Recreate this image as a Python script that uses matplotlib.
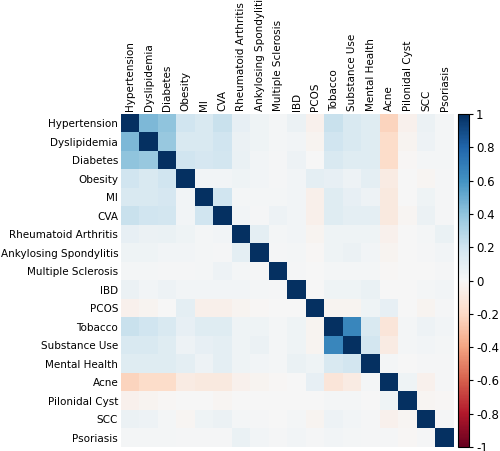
import matplotlib.pyplot as plt
import numpy as np

labels = ["Hypertension", "Dyslipidemia", "Diabetes", "Obesity", "MI", "CVA",
          "Rheumatoid Arthritis", "Ankylosing Spondylitis", "Multiple Sclerosis",
          "IBD", "PCOS", "Tobacco", "Substance Use", "Mental Health", "Acne",
          "Pilonidal Cyst", "SCC", "Psoriasis"]

# upper triangle, row by row (values to the right of the diagonal)
upper = [
    [.45, .40, .20, .15, .22, .08, .04, .02, .06, -.04, .22, .15, .12, -.22, -.04, .06, .02],
    [.38, .15, .15, .20, .06, .04, .02, .03, -.03, .20, .15, .12, -.18, -.03, .05, .02],
    [.20, .17, .18, .07, .03, .01, .05, .00, .15, .12, .12, -.18, -.01, .02, .02],
    [.03, .03, .04, .03, .01, .03, .10, .08, .05, .10, -.08, .00, -.02, .01],
    [.20, .02, .02, .02, .03, -.05, .12, .08, .05, -.10, .00, .04, .01],
    [.03, .01, .05, .03, -.05, .12, .10, .10, -.10, -.02, .06, .01],
    [.10, .02, .03, -.03, .04, .04, .04, -.04, .00, .02, .07],
    [.01, .02, -.01, .04, .06, .03, -.03, .00, .01, .03],
    [.01, .00, .02, .02, .02, -.01, .00, .00, .01],
    [.00, .04, .04, .07, .00, .00, .02, .03],
    [-.03, -.03, .04, .08, .00, -.03, .01],
    [.65, .15, -.12, .02, .05, .03],
    [.18, -.08, .02, .03, .02],
    [.02, .00, .01, .01],
    [.04, -.04, .01],
    [-.02, -.01],
    [.01],
]

n = len(labels)
corr = np.eye(n)
for i, row in enumerate(upper):
    for k, v in enumerate(row):
        corr[i, i + 1 + k] = v
        corr[i + 1 + k, i] = v

fig = plt.figure(figsize=(5.0, 4.51), dpi=100)
ax = fig.add_axes([0.242, 0.009, 0.666, 0.738])
im = ax.imshow(corr, cmap="RdBu", vmin=-1, vmax=1, aspect="auto")
ax.set_xticks(range(n))
ax.set_yticks(range(n))
ax.set_xticklabels(labels, rotation=90, fontsize=7.5)
ax.set_yticklabels(labels, fontsize=7.5)
ax.xaxis.tick_top()
ax.tick_params(length=0, pad=2)
for s in ax.spines.values():
    s.set_visible(False)

cax = fig.add_axes([0.916, 0.009, 0.022, 0.738])
ticks = np.round(np.linspace(-1, 1, 11), 1)
cb = fig.colorbar(im, cax=cax, ticks=ticks)
cb.ax.set_yticklabels([f"{t:g}" for t in ticks])
cb.ax.tick_params(labelsize=8.5, length=3, pad=2)
cb.outline.set_linewidth(0.8)

fig.savefig("out.png", dpi=100)
